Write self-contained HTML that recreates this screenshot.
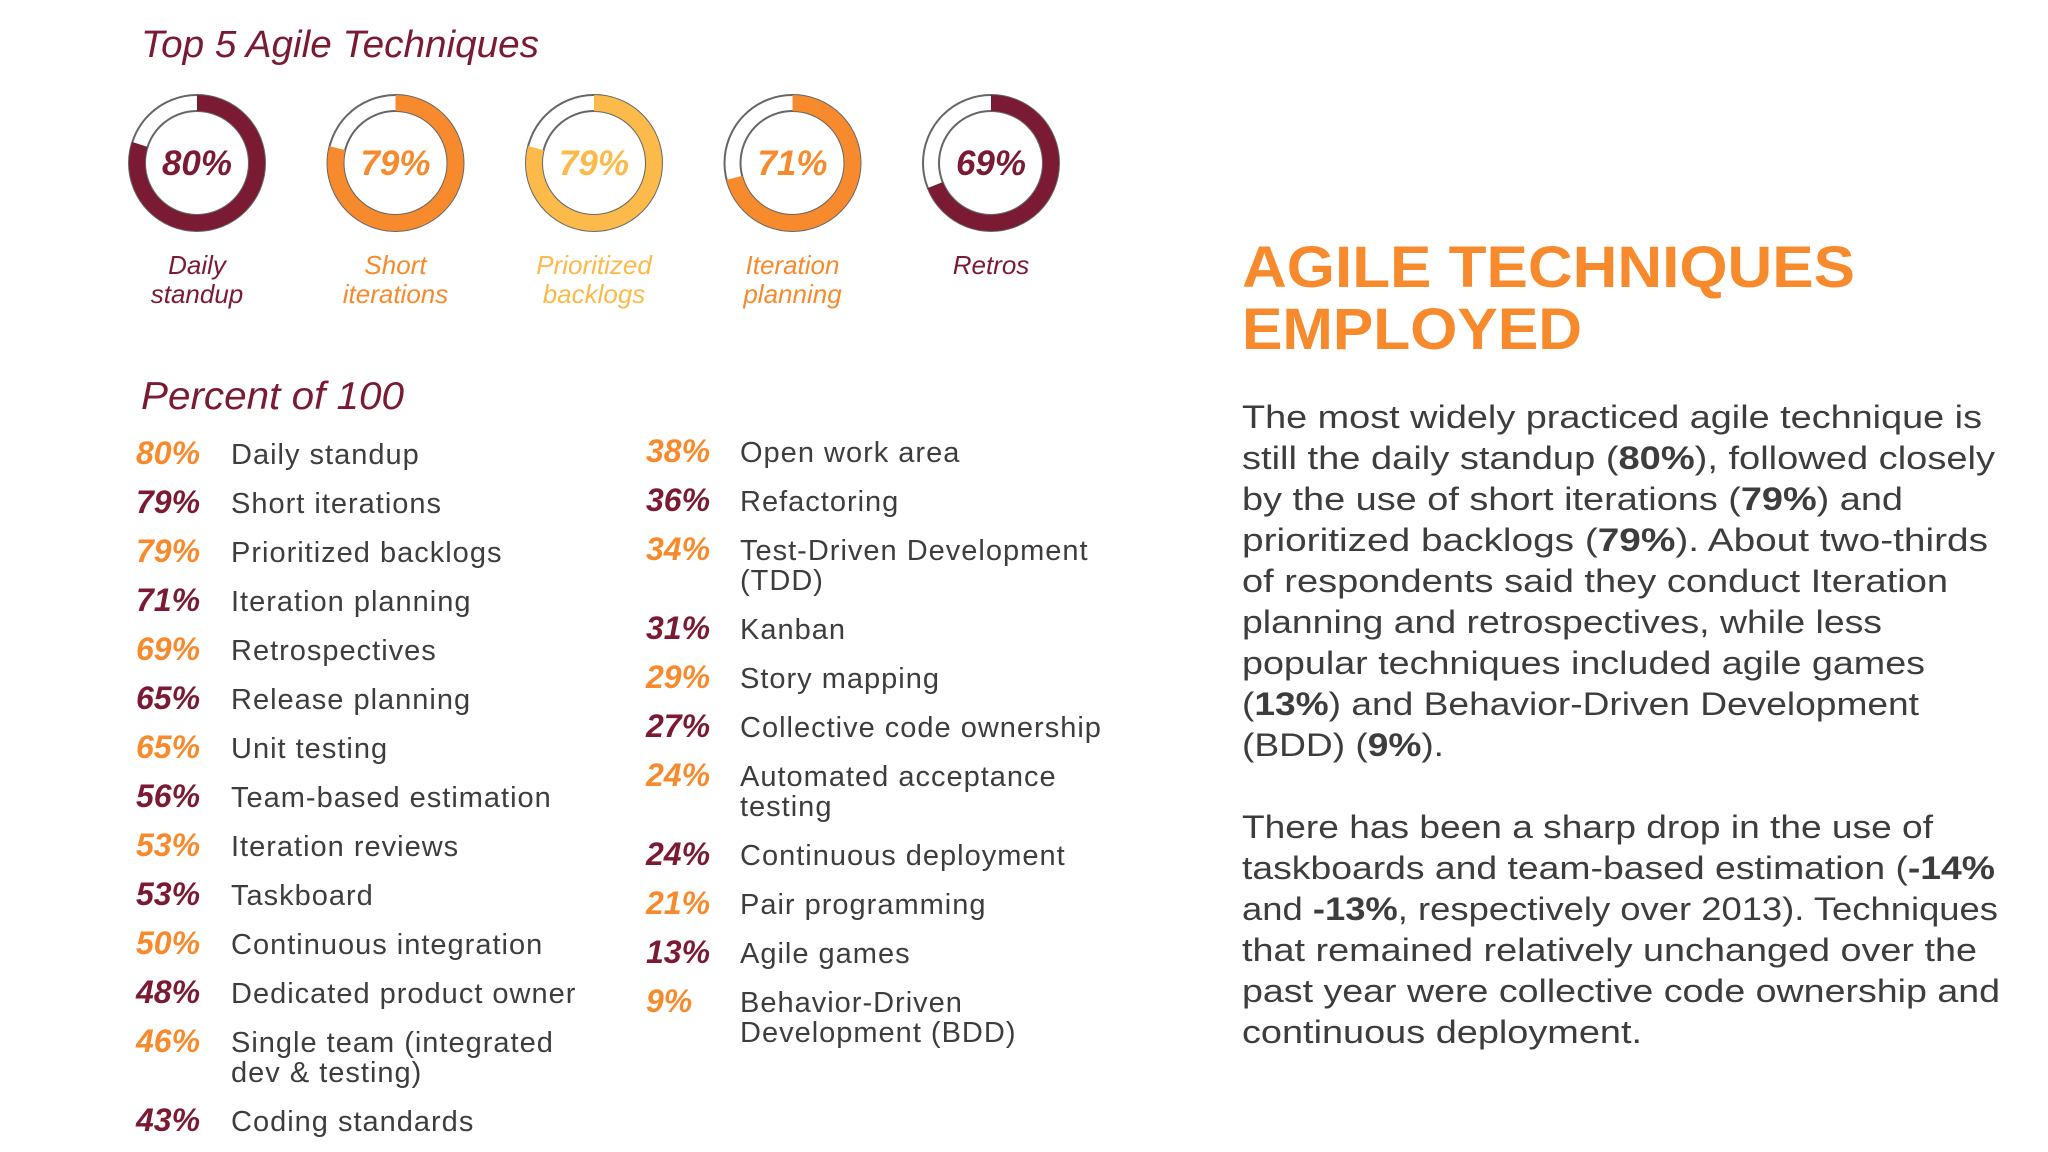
<!DOCTYPE html>
<html><head><meta charset="utf-8"><style>
html,body{margin:0;padding:0;background:#fff;}
svg{display:block;}
.hand{font-family:"Liberation Sans",sans-serif;font-style:italic;}
.body{font-family:"Liberation Sans",sans-serif;fill:#3d3d3d;}
</style></head><body>
<svg id="root" width="2048" height="1152" viewBox="0 0 2048 1152" xmlns="http://www.w3.org/2000/svg">
<rect width="2048" height="1152" fill="#fff"/>
<text x="141" y="57" class="hand" font-size="38" fill="#7a1a33" textLength="398" lengthAdjust="spacingAndGlyphs">Top 5 Agile Techniques</text>
<g id="donuts"></g>
<text x="141" y="409" class="hand" font-size="39" fill="#7a1a33" textLength="263" lengthAdjust="spacingAndGlyphs">Percent of 100</text>
<g id="list"></g>

<g font-family="Liberation Sans, sans-serif" font-weight="bold" fill="#f78a2c" font-size="58">
<text x="1242" y="287" textLength="613" lengthAdjust="spacingAndGlyphs">AGILE TECHNIQUES</text>
<text x="1242" y="349" textLength="340" lengthAdjust="spacingAndGlyphs">EMPLOYED</text>
</g>
<g class="body" font-size="32">
<text x="1242" y="428" textLength="740" lengthAdjust="spacingAndGlyphs">The most widely practiced agile technique is</text>
<text x="1242" y="469" textLength="753" lengthAdjust="spacingAndGlyphs">still the daily standup (<tspan font-weight="bold">80%</tspan>), followed closely</text>
<text x="1242" y="510" textLength="661" lengthAdjust="spacingAndGlyphs">by the use of short iterations (<tspan font-weight="bold">79%</tspan>) and</text>
<text x="1242" y="551" textLength="746" lengthAdjust="spacingAndGlyphs">prioritized backlogs (<tspan font-weight="bold">79%</tspan>). About two-thirds</text>
<text x="1242" y="592" textLength="706" lengthAdjust="spacingAndGlyphs">of respondents said they conduct Iteration</text>
<text x="1242" y="633" textLength="640" lengthAdjust="spacingAndGlyphs">planning and retrospectives, while less</text>
<text x="1242" y="674" textLength="683" lengthAdjust="spacingAndGlyphs">popular techniques included agile games</text>
<text x="1242" y="715" textLength="677" lengthAdjust="spacingAndGlyphs">(<tspan font-weight="bold">13%</tspan>) and Behavior-Driven Development</text>
<text x="1242" y="756" textLength="202" lengthAdjust="spacingAndGlyphs">(BDD) (<tspan font-weight="bold">9%</tspan>).</text>
</g>
<g class="body" font-size="32">
<text x="1242" y="838" textLength="691" lengthAdjust="spacingAndGlyphs">There has been a sharp drop in the use of</text>
<text x="1242" y="879" textLength="753" lengthAdjust="spacingAndGlyphs">taskboards and team-based estimation (<tspan font-weight="bold">-14%</tspan></text>
<text x="1242" y="920" textLength="756" lengthAdjust="spacingAndGlyphs">and <tspan font-weight="bold">-13%</tspan>, respectively over 2013). Techniques</text>
<text x="1242" y="961" textLength="735" lengthAdjust="spacingAndGlyphs">that remained relatively unchanged over the</text>
<text x="1242" y="1002" textLength="758" lengthAdjust="spacingAndGlyphs">past year were collective code ownership and</text>
<text x="1242" y="1043" textLength="400" lengthAdjust="spacingAndGlyphs">continuous deployment.</text>
</g>
</svg>
<script>
const NS = "http://www.w3.org/2000/svg";
const topLabels = [["Daily","standup"],["Short","iterations"],["Prioritized","backlogs"],["Iteration","planning"],["Retros"]];
const topValues = [80, 79, 79, 71, 69];
const topColors = ["#7a1a33","#f78a2c","#fbba4a","#f78a2c","#7a1a33"];
const leftLabels = [["Daily standup"],["Short iterations"],["Prioritized backlogs"],["Iteration planning"],["Retrospectives"],["Release planning"],["Unit testing"],["Team-based estimation"],["Iteration reviews"],["Taskboard"],["Continuous integration"],["Dedicated product owner"],["Single team (integrated","dev & testing)"],["Coding standards"]];
const leftValues = [80,79,79,71,69,65,65,56,53,53,50,48,46,43];
const rightLabels = [["Open work area"],["Refactoring"],["Test-Driven Development","(TDD)"],["Kanban"],["Story mapping"],["Collective code ownership"],["Automated acceptance","testing"],["Continuous deployment"],["Pair programming"],["Agile games"],["Behavior-Driven","Development (BDD)"]];
const rightValues = [38,36,34,31,29,27,24,24,21,13,9];

function mk(tag, attrs, parent){const e=document.createElementNS(NS,tag);for(const k in attrs)e.setAttribute(k,attrs[k]);parent.appendChild(e);return e;}

const dg = document.getElementById('donuts');
const cx0 = 197, dx = 198.5, cy = 163, R = 60, W = 16;
topValues.forEach((v,i)=>{
  const cx = cx0 + dx*i;
  const g = mk('g',{},dg);
  
  
  mk('circle',{cx:cx,cy:cy,r:R+W/2,fill:'none',stroke:'#666','stroke-width':2},g);
  mk('circle',{cx:cx,cy:cy,r:R-W/2,fill:'#fff',stroke:'#666','stroke-width':2},g);
  const a = v/100*2*Math.PI;
  const x1=cx, y1=cy-R, x2=cx+R*Math.sin(a), y2=cy-R*Math.cos(a);
  const arc = mk('path',{d:`M${x1} ${y1} A${R} ${R} 0 ${v>50?1:0} 1 ${x2} ${y2}`,fill:'none',stroke:topColors[i],'stroke-width':W},g);
  
  
  const t = mk('text',{x:cx,y:cy+12,'text-anchor':'middle','font-size':35,'font-weight':'bold',fill:topColors[i],class:'hand'},g);
  t.textContent = v+'%';
  
  
  topLabels[i].forEach((ln,j)=>{
    const l = mk('text',{x:cx,y:274+29*j,'text-anchor':'middle','font-size':26,fill:topColors[i],class:'hand'},g);
    l.textContent = ln;
    
    
  });
});

const lg = document.getElementById('list');
function column(labels, values, px, lx, y0){
  let y = y0;
  labels.forEach((lines,i)=>{
    const g = mk('g',{},lg);
    
    
    const p = mk('text',{x:px,y:y,'font-size':32,'font-weight':'bold',fill:i%2===0?'#f78a2c':'#7a1a33',class:'hand'},g);
    p.textContent = values[i]+'%';
    
    
    lines.forEach((ln,j)=>{
      const t = mk('text',{x:lx,y:y+30*j,'font-size':29,'letter-spacing':1,class:'body'},g);
      t.textContent = ln;
      
      
    });
    y += 49 + 30*(lines.length-1);
  });
}
column(leftLabels, leftValues, 136, 231, 464);
column(rightLabels, rightValues, 646, 740, 462);
</script>
</body></html>
